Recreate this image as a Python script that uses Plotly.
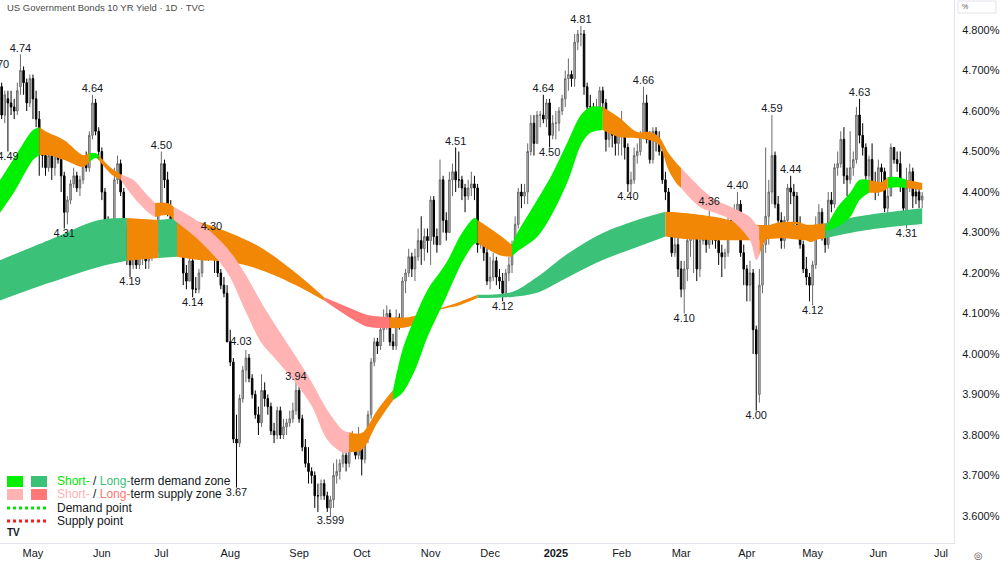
import pandas as pd
import plotly.graph_objects as go

# ---------------- data ----------------
holidays = ["2024-05-27", "2024-06-19", "2024-07-04", "2024-09-02", "2024-10-14", "2024-11-11",
            "2024-11-28", "2024-12-25", "2025-01-01", "2025-01-20", "2025-02-17", "2025-04-18",
            "2025-05-26", "2025-06-19", "2025-07-04"]

opens = [
    4.52, 4.61, 4.66, 4.59, 4.63, 4.62, 4.61, 4.60, 4.66, 4.70, 4.67, 4.62,
    4.68, 4.63, 4.58, 4.50, 4.49, 4.46, 4.49, 4.46, 4.50, 4.48, 4.44, 4.35, 4.38, 4.42, 4.44, 4.41, 4.43, 4.48, 4.46, 4.54, 4.62, 4.55,
    4.50, 4.40, 4.33, 4.29, 4.29, 4.43, 4.47, 4.40, 4.31, 4.24, 4.22, 4.28, 4.22, 4.25, 4.26, 4.23, 4.24, 4.32, 4.29,
    4.36, 4.47, 4.43, 4.36, 4.28, 4.28, 4.30, 4.28, 4.20, 4.18, 4.23, 4.16, 4.16, 4.20, 4.24, 4.26, 4.25, 4.28, 4.25, 4.20, 4.17, 4.15,
    4.03, 3.98, 3.79, 3.78, 3.89, 3.96, 3.99, 3.94, 3.90, 3.85, 3.83, 3.91, 3.89, 3.87, 3.81, 3.80, 3.86, 3.80, 3.82, 3.83, 3.84, 3.86,
    3.91, 3.84, 3.77, 3.73, 3.71, 3.70, 3.65, 3.65, 3.68, 3.65, 3.62, 3.64, 3.70, 3.71, 3.73, 3.75, 3.73, 3.79, 3.79, 3.75,
    3.78, 3.74, 3.79, 3.85, 3.98, 4.03, 4.02, 4.06, 4.09, 4.10, 4.03, 4.02, 4.09, 4.08, 4.18, 4.20, 4.24, 4.21, 4.24, 4.28, 4.26, 4.29,
    4.28, 4.38, 4.29, 4.27, 4.43, 4.33, 4.30, 4.43, 4.45, 4.43, 4.43, 4.41, 4.39, 4.41, 4.42, 4.41, 4.27, 4.30, 4.25,
    4.18, 4.19, 4.23, 4.19, 4.18, 4.15, 4.20, 4.22, 4.27, 4.32, 4.40, 4.39, 4.40, 4.50, 4.57, 4.52, 4.59, 4.59, 4.58, 4.62, 4.54,
    4.57, 4.57, 4.60, 4.63, 4.68, 4.69, 4.68, 4.77, 4.79, 4.79, 4.66, 4.61, 4.61, 4.58, 4.61, 4.65, 4.62, 4.53, 4.55, 4.54, 4.52,
    4.54, 4.54, 4.51, 4.42, 4.43, 4.49, 4.50, 4.54, 4.62, 4.53, 4.48, 4.55, 4.53, 4.50, 4.43, 4.40, 4.30, 4.25, 4.27,
    4.21, 4.16, 4.21, 4.28, 4.29, 4.30, 4.21, 4.28, 4.32, 4.27, 4.31, 4.30, 4.28, 4.25, 4.24, 4.25, 4.33, 4.31, 4.35, 4.37, 4.25,
    4.21, 4.17, 4.20, 4.06, 3.90, 4.17, 4.27, 4.34, 4.40, 4.49, 4.37, 4.33, 4.28, 4.33, 4.41, 4.40, 4.39, 4.32, 4.27, 4.21, 4.19,
    4.17, 4.22, 4.31, 4.35, 4.30, 4.27, 4.38, 4.37, 4.46, 4.47, 4.53, 4.44, 4.43, 4.46, 4.48, 4.59, 4.54, 4.51, 4.44, 4.48, 4.42,
    4.40, 4.46, 4.45, 4.36, 4.39, 4.51, 4.48, 4.47, 4.42, 4.35, 4.41, 4.45, 4.40, 4.40, 4.38,
]
highs = [
    4.64, 4.70, 4.67, 4.65, 4.65, 4.65, 4.63, 4.67, 4.74, 4.71, 4.68, 4.69,
    4.69, 4.65, 4.60, 4.51, 4.50, 4.51, 4.50, 4.52, 4.51, 4.49, 4.45, 4.39, 4.43, 4.46, 4.45, 4.44, 4.49, 4.50, 4.55, 4.64, 4.63, 4.56,
    4.51, 4.41, 4.34, 4.31, 4.46, 4.49, 4.48, 4.41, 4.32, 4.27, 4.29, 4.29, 4.26, 4.27, 4.27, 4.26, 4.33, 4.33, 4.37,
    4.50, 4.48, 4.45, 4.38, 4.31, 4.32, 4.31, 4.29, 4.22, 4.25, 4.24, 4.19, 4.21, 4.25, 4.27, 4.27, 4.30, 4.29, 4.26, 4.21, 4.19, 4.17,
    4.06, 3.99, 3.85, 3.90, 3.97, 4.01, 4.00, 3.95, 3.91, 3.87, 3.95, 3.93, 3.90, 3.88, 3.83, 3.87, 3.87, 3.84, 3.84, 3.86, 3.88, 3.93,
    3.92, 3.85, 3.79, 3.77, 3.72, 3.71, 3.68, 3.69, 3.69, 3.66, 3.65, 3.73, 3.74, 3.74, 3.77, 3.76, 3.80, 3.81, 3.80, 3.82,
    3.79, 3.80, 3.86, 3.99, 4.04, 4.04, 4.07, 4.11, 4.12, 4.11, 4.05, 4.11, 4.10, 4.19, 4.21, 4.26, 4.25, 4.26, 4.31, 4.34, 4.31, 4.31,
    4.39, 4.39, 4.31, 4.48, 4.44, 4.35, 4.45, 4.47, 4.51, 4.50, 4.44, 4.42, 4.43, 4.45, 4.44, 4.42, 4.32, 4.31, 4.27,
    4.24, 4.25, 4.24, 4.21, 4.20, 4.21, 4.24, 4.28, 4.34, 4.41, 4.42, 4.42, 4.52, 4.59, 4.59, 4.60, 4.60, 4.64, 4.63, 4.63, 4.59,
    4.60, 4.61, 4.64, 4.70, 4.73, 4.70, 4.79, 4.80, 4.81, 4.80, 4.67, 4.64, 4.62, 4.63, 4.66, 4.66, 4.63, 4.57, 4.58, 4.55, 4.57,
    4.60, 4.56, 4.52, 4.45, 4.51, 4.52, 4.55, 4.66, 4.64, 4.55, 4.56, 4.56, 4.55, 4.52, 4.45, 4.41, 4.31, 4.30, 4.29,
    4.23, 4.23, 4.30, 4.33, 4.33, 4.31, 4.30, 4.34, 4.33, 4.36, 4.33, 4.32, 4.30, 4.27, 4.26, 4.35, 4.35, 4.37, 4.40, 4.38, 4.27,
    4.22, 4.23, 4.21, 4.07, 4.21, 4.30, 4.51, 4.43, 4.59, 4.50, 4.39, 4.35, 4.34, 4.42, 4.44, 4.42, 4.40, 4.34, 4.28, 4.24, 4.20,
    4.23, 4.34, 4.37, 4.36, 4.32, 4.40, 4.40, 4.47, 4.50, 4.55, 4.56, 4.46, 4.55, 4.50, 4.61, 4.63, 4.57, 4.52, 4.49, 4.52, 4.45,
    4.48, 4.47, 4.46, 4.41, 4.52, 4.51, 4.50, 4.50, 4.43, 4.46, 4.47, 4.46, 4.42, 4.42, 4.40,
]
lows = [
    4.51, 4.60, 4.58, 4.57, 4.50, 4.59, 4.58, 4.59, 4.64, 4.64, 4.60, 4.61,
    4.58, 4.56, 4.44, 4.46, 4.44, 4.45, 4.43, 4.44, 4.47, 4.40, 4.31, 4.32, 4.37, 4.41, 4.40, 4.39, 4.42, 4.45, 4.45, 4.53, 4.54, 4.48,
    4.38, 4.31, 4.28, 4.27, 4.28, 4.42, 4.39, 4.23, 4.22, 4.19, 4.21, 4.21, 4.21, 4.22, 4.21, 4.21, 4.23, 4.26, 4.25,
    4.36, 4.41, 4.34, 4.26, 4.25, 4.27, 4.27, 4.17, 4.16, 4.18, 4.14, 4.15, 4.15, 4.19, 4.23, 4.23, 4.24, 4.20, 4.19, 4.16, 4.14, 4.03,
    3.97, 3.78, 3.67, 3.77, 3.88, 3.93, 3.93, 3.89, 3.84, 3.80, 3.82, 3.87, 3.85, 3.80, 3.78, 3.79, 3.79, 3.79, 3.80, 3.82, 3.83, 3.85,
    3.83, 3.76, 3.72, 3.68, 3.68, 3.62, 3.61, 3.64, 3.64, 3.61, 3.60, 3.62, 3.68, 3.69, 3.72, 3.71, 3.72, 3.76, 3.74, 3.74,
    3.70, 3.73, 3.78, 3.84, 3.97, 4.00, 4.01, 4.03, 4.06, 4.02, 4.01, 4.01, 4.06, 4.08, 4.15, 4.19, 4.19, 4.18, 4.23, 4.22, 4.23, 4.25,
    4.22, 4.27, 4.25, 4.27, 4.30, 4.28, 4.30, 4.39, 4.40, 4.41, 4.38, 4.35, 4.38, 4.39, 4.38, 4.25, 4.26, 4.23, 4.17,
    4.16, 4.18, 4.17, 4.16, 4.13, 4.14, 4.18, 4.20, 4.26, 4.31, 4.36, 4.37, 4.37, 4.49, 4.49, 4.52, 4.56, 4.57, 4.56, 4.51, 4.53,
    4.53, 4.55, 4.59, 4.61, 4.65, 4.66, 4.66, 4.75, 4.76, 4.64, 4.59, 4.58, 4.55, 4.57, 4.60, 4.60, 4.50, 4.51, 4.51, 4.49, 4.49,
    4.49, 4.48, 4.40, 4.40, 4.42, 4.47, 4.49, 4.53, 4.52, 4.47, 4.47, 4.50, 4.49, 4.42, 4.38, 4.29, 4.24, 4.24, 4.19,
    4.14, 4.10, 4.18, 4.24, 4.20, 4.18, 4.19, 4.27, 4.25, 4.26, 4.27, 4.26, 4.22, 4.19, 4.21, 4.24, 4.30, 4.29, 4.33, 4.24, 4.17,
    4.13, 4.13, 4.00, 3.86, 3.88, 4.15, 4.25, 4.27, 4.37, 4.36, 4.32, 4.26, 4.26, 4.32, 4.37, 4.30, 4.30, 4.26, 4.20, 4.17, 4.13,
    4.12, 4.21, 4.30, 4.28, 4.25, 4.26, 4.35, 4.36, 4.44, 4.46, 4.42, 4.39, 4.42, 4.44, 4.47, 4.52, 4.49, 4.43, 4.43, 4.41, 4.38,
    4.39, 4.42, 4.35, 4.34, 4.39, 4.47, 4.45, 4.40, 4.34, 4.31, 4.40, 4.36, 4.37, 4.36, 4.36,
]
closes = [
    4.61, 4.66, 4.59, 4.64, 4.62, 4.61, 4.60, 4.65, 4.70, 4.67, 4.62, 4.68,
    4.63, 4.58, 4.50, 4.49, 4.46, 4.49, 4.46, 4.50, 4.48, 4.44, 4.35, 4.38, 4.42, 4.44, 4.41, 4.43, 4.48, 4.46, 4.54, 4.62, 4.55, 4.50,
    4.40, 4.33, 4.29, 4.29, 4.43, 4.47, 4.40, 4.31, 4.24, 4.22, 4.28, 4.22, 4.25, 4.26, 4.23, 4.24, 4.32, 4.29, 4.36,
    4.47, 4.43, 4.36, 4.28, 4.28, 4.30, 4.28, 4.20, 4.18, 4.23, 4.16, 4.16, 4.20, 4.24, 4.26, 4.25, 4.28, 4.25, 4.20, 4.17, 4.15, 4.03,
    3.98, 3.79, 3.78, 3.89, 3.96, 3.99, 3.94, 3.90, 3.85, 3.83, 3.91, 3.89, 3.87, 3.81, 3.80, 3.86, 3.80, 3.82, 3.83, 3.84, 3.86, 3.91,
    3.84, 3.77, 3.73, 3.71, 3.70, 3.65, 3.65, 3.68, 3.65, 3.62, 3.64, 3.70, 3.71, 3.73, 3.75, 3.73, 3.79, 3.79, 3.75, 3.78,
    3.74, 3.79, 3.85, 3.98, 4.03, 4.02, 4.06, 4.09, 4.10, 4.03, 4.02, 4.09, 4.08, 4.18, 4.20, 4.24, 4.21, 4.24, 4.28, 4.26, 4.29, 4.28,
    4.38, 4.29, 4.27, 4.43, 4.33, 4.30, 4.43, 4.45, 4.43, 4.43, 4.41, 4.39, 4.41, 4.42, 4.41, 4.27, 4.30, 4.25, 4.18,
    4.19, 4.23, 4.19, 4.18, 4.15, 4.20, 4.22, 4.27, 4.32, 4.40, 4.39, 4.40, 4.50, 4.57, 4.52, 4.59, 4.59, 4.58, 4.62, 4.54, 4.57,
    4.57, 4.60, 4.63, 4.68, 4.69, 4.68, 4.77, 4.79, 4.79, 4.66, 4.61, 4.61, 4.58, 4.61, 4.65, 4.62, 4.53, 4.55, 4.54, 4.52, 4.54,
    4.54, 4.51, 4.42, 4.43, 4.49, 4.50, 4.54, 4.62, 4.53, 4.48, 4.55, 4.53, 4.50, 4.43, 4.40, 4.30, 4.25, 4.27, 4.21,
    4.16, 4.21, 4.28, 4.29, 4.30, 4.21, 4.28, 4.32, 4.27, 4.31, 4.30, 4.28, 4.25, 4.24, 4.25, 4.33, 4.31, 4.35, 4.37, 4.25, 4.21,
    4.17, 4.20, 4.06, 4.00, 4.17, 4.27, 4.34, 4.40, 4.49, 4.37, 4.33, 4.28, 4.33, 4.41, 4.40, 4.39, 4.32, 4.27, 4.21, 4.19, 4.17,
    4.22, 4.31, 4.35, 4.30, 4.27, 4.38, 4.37, 4.46, 4.47, 4.53, 4.44, 4.43, 4.46, 4.48, 4.59, 4.54, 4.51, 4.44, 4.48, 4.42, 4.40,
    4.46, 4.45, 4.36, 4.39, 4.51, 4.48, 4.47, 4.42, 4.36, 4.41, 4.45, 4.39, 4.39, 4.38, 4.39,
]

# long-term zone (ribbon edges); zone applies from this point to the next
long_dates = ["2024-04-15", "2024-05-08", "2024-05-31", "2024-06-13", "2024-06-28", "2024-07-09",
              "2024-07-18", "2024-08-01", "2024-08-15", "2024-08-30", "2024-09-13", "2024-09-25",
              "2024-10-03", "2024-10-15", "2024-10-23", "2024-11-05", "2024-11-15", "2024-11-25",
              "2024-12-11", "2024-12-23", "2025-01-08", "2025-01-24", "2025-02-10", "2025-02-24",
              "2025-03-04", "2025-03-18", "2025-03-27", "2025-04-04", "2025-04-16", "2025-04-30",
              "2025-05-07", "2025-05-19", "2025-06-03", "2025-06-23"]
long_upper = [4.227, 4.281, 4.331, 4.336, 4.331, 4.336, 4.326, 4.299, 4.262, 4.200, 4.140, 4.114,
              4.096, 4.091, 4.091, 4.111, 4.128, 4.146, 4.153, 4.190, 4.249, 4.299, 4.331, 4.351,
              4.348, 4.338, 4.326, 4.319, 4.319, 4.319, 4.323, 4.336, 4.348, 4.360]
long_lower = [4.128, 4.175, 4.215, 4.230, 4.237, 4.240, 4.232, 4.227, 4.207, 4.170, 4.132, 4.091,
              4.067, 4.064, 4.067, 4.107, 4.120, 4.138, 4.141, 4.151, 4.190, 4.232, 4.264, 4.290,
              4.284, 4.281, 4.281, 4.281, 4.286, 4.281, 4.286, 4.299, 4.311, 4.321]
long_zone = ["D", "D", "D", "N", "D", "N", "N", "N", "N", "N", "S", "S",
             "S", "N", "N", "N", "N", "D", "D", "D", "D", "D", "D", "N",
             "N", "N", "N", "N", "N", "N", "D", "D", "D", "D"]

# short-term zone
short_dates = ["2024-04-15", "2024-04-23", "2024-05-01", "2024-05-03", "2024-05-08", "2024-05-15",
               "2024-05-23", "2024-05-28", "2024-05-30", "2024-05-31", "2024-06-06", "2024-06-11",
               "2024-06-17", "2024-06-25", "2024-06-27", "2024-07-03", "2024-07-08", "2024-07-18",
               "2024-07-31", "2024-08-08", "2024-08-15", "2024-08-22", "2024-08-30", "2024-09-09",
               "2024-09-16", "2024-09-23", "2024-09-25", "2024-10-01", "2024-10-08", "2024-10-16",
               "2024-10-21", "2024-10-25", "2024-10-31", "2024-11-08", "2024-11-18", "2024-11-22",
               "2024-11-25", "2024-12-05", "2024-12-11", "2024-12-12", "2024-12-23", "2024-12-31",
               "2025-01-08", "2025-01-14", "2025-01-17", "2025-01-24", "2025-01-31", "2025-02-10",
               "2025-02-14", "2025-02-20", "2025-02-25", "2025-02-28", "2025-03-03", "2025-03-11",
               "2025-03-18", "2025-03-25", "2025-04-02", "2025-04-04", "2025-04-07", "2025-04-09",
               "2025-04-14", "2025-04-24", "2025-04-29", "2025-05-01", "2025-05-07", "2025-05-13",
               "2025-05-19", "2025-05-22", "2025-05-28", "2025-06-03", "2025-06-05", "2025-06-10",
               "2025-06-13", "2025-06-23"]
short_upper = [4.411, 4.484, 4.553, 4.560, 4.546, 4.528, 4.491, 4.496, 4.496, 4.491, 4.459, 4.444,
               4.430, 4.388, 4.373, 4.373, 4.363, 4.326, 4.262, 4.195, 4.126, 4.064, 3.993, 3.931,
               3.862, 3.812, 3.807, 3.805, 3.862, 3.911, 4.010, 4.091, 4.158, 4.225, 4.299, 4.336,
               4.331, 4.294, 4.269, 4.289, 4.380, 4.447, 4.528, 4.590, 4.610, 4.610, 4.585, 4.548,
               4.548, 4.536, 4.496, 4.467, 4.459, 4.412, 4.380, 4.363, 4.338, 4.319, 4.314, 4.314,
               4.323, 4.326, 4.319, 4.314, 4.308, 4.363, 4.398, 4.430, 4.430, 4.425, 4.437, 4.437,
               4.430, 4.422]
short_lower = [4.333, 4.400, 4.479, 4.491, 4.491, 4.479, 4.462, 4.474, 4.484, 4.479, 4.444, 4.430,
               4.388, 4.348, 4.338, 4.343, 4.331, 4.281, 4.202, 4.104, 4.027, 3.983, 3.928, 3.872,
               3.788, 3.756, 3.758, 3.763, 3.830, 3.886, 3.904, 3.960, 4.042, 4.141, 4.225, 4.272,
               4.274, 4.244, 4.240, 4.249, 4.289, 4.348, 4.430, 4.516, 4.546, 4.553, 4.536, 4.533,
               4.528, 4.516, 4.454, 4.417, 4.410, 4.363, 4.348, 4.331, 4.281, 4.232, 4.244, 4.281,
               4.289, 4.321, 4.281, 4.277, 4.304, 4.314, 4.338, 4.380, 4.398, 4.400, 4.410, 4.412,
               4.410, 4.405]
short_zone = ["D", "D", "D", "N", "N", "N", "N", "D", "D", "N", "N", "S",
              "S", "S", "N", "N", "S", "S", "S", "S", "S", "S", "S", "S",
              "S", "S", "N", "N", "N", "D", "D", "D", "D", "D", "D", "D",
              "N", "N", "D", "D", "D", "D", "D", "D", "D", "N", "N", "N",
              "N", "N", "N", "N", "S", "S", "S", "S", "S", "S", "N", "N",
              "N", "N", "N", "N", "D", "D", "D", "D", "N", "N", "D", "D",
              "N", "N"]

# pivot labels
label_dates = ["2024-04-16", "2024-04-19", "2024-04-25", "2024-05-15", "2024-05-29", "2024-06-14",
               "2024-07-01", "2024-07-16", "2024-07-24", "2024-08-01", "2024-08-05", "2024-08-30",
               "2024-09-17", "2024-11-14", "2024-12-06", "2024-12-26", "2024-12-30", "2025-01-14",
               "2025-02-05", "2025-02-12", "2025-03-04", "2025-03-14", "2025-03-27", "2025-04-04",
               "2025-04-11", "2025-04-22", "2025-05-01", "2025-05-22", "2025-06-13"]
label_texts = ["4.70", "4.49", "4.74", "4.31", "4.64", "4.19", "4.50", "4.14", "4.30", "4.03", "3.67", "3.94",
               "3.599", "4.51", "4.12", "4.64", "4.50", "4.81", "4.40", "4.66", "4.10", "4.36", "4.40", "4.00",
               "4.59", "4.44", "4.12", "4.63", "4.31"]
label_kinds = ["high", "low", "high", "low", "high", "low", "high", "low", "high", "open", "low", "high",
               "low", "high", "low", "high", "low", "high", "low", "high", "low", "high", "high", "low",
               "high", "high", "low", "high", "low"]

tick_dates = ["2024-05-01", "2024-06-03", "2024-07-01", "2024-08-01", "2024-09-03", "2024-10-01",
              "2024-11-01", "2024-12-02", "2025-01-02", "2025-02-03", "2025-03-03", "2025-04-01",
              "2025-05-01", "2025-06-02", "2025-07-01"]
tick_text = ["May", "Jun", "Jul", "Aug", "Sep", "Oct", "Nov", "Dec", "<b>2025</b>", "Feb", "Mar", "Apr",
             "May", "Jun", "Jul"]

# ---------------- build ----------------
all_days = [d.strftime("%Y-%m-%d") for d in pd.bdate_range("2024-04-15", "2025-07-15")
            if d.strftime("%Y-%m-%d") not in holidays]
n = len(closes)
assert len(opens) == len(highs) == len(lows) == n
dates = all_days[:n]
assert dates[-1] == "2025-06-23", dates[-1]

FONT = "Liberation Sans"
TXT = "#131722"
PAL = {
    "short": {"D": "#00f000", "S": "#ffb3b3", "N": "#f28705"},
    "long": {"D": "#3cc178", "S": "#ff7777", "N": "#f28705"},
}

fig = go.Figure()


def add_band(bdates, up, lo, zones, pal):
    m = len(bdates)
    i = 0
    while i < m - 1:
        j = i
        while j + 1 < m - 1 and zones[j + 1] == zones[i]:
            j += 1
        sl = slice(i, j + 2)
        fig.add_trace(go.Scatter(x=bdates[sl], y=up[sl], mode="lines",
                                 line=dict(width=0, shape="spline", smoothing=0.9),
                                 hoverinfo="skip", showlegend=False))
        fig.add_trace(go.Scatter(x=bdates[sl], y=lo[sl], mode="lines",
                                 line=dict(width=0, shape="spline", smoothing=0.9),
                                 fill="tonexty", fillcolor=pal[zones[i]],
                                 hoverinfo="skip", showlegend=False))
        i = j + 1


add_band(long_dates, long_upper, long_lower, long_zone, PAL["long"])
add_band(short_dates, short_upper, short_lower, short_zone, PAL["short"])

fig.add_trace(go.Candlestick(
    x=dates, open=opens, high=highs, low=lows, close=closes,
    increasing=dict(line=dict(color="#6a6a6a", width=1), fillcolor="#c4c4c4"),
    decreasing=dict(line=dict(color="#000000", width=1), fillcolor="#000000"),
    whiskerwidth=0, showlegend=False, hoverinfo="skip"))

# pivot labels
pos = {d: k for k, d in enumerate(dates)}
lx, ly, lpos = [], [], []
for d, kind in zip(label_dates, label_kinds):
    k = pos[d]
    lx.append(d)
    if kind == "high":
        ly.append(highs[k]); lpos.append("top center")
    elif kind == "low":
        ly.append(lows[k]); lpos.append("bottom center")
    else:
        ly.append(opens[k]); lpos.append("middle right")
fig.add_trace(go.Scatter(x=lx, y=ly, mode="text", text=label_texts, textposition=lpos,
                         textfont=dict(family=FONT, size=11, color=TXT),
                         cliponaxis=True, hoverinfo="skip", showlegend=False))

# ---------------- layout ----------------
PW, PH = 954, 543


def px(xp):
    return xp / PW


def py(yp):
    return (PH - yp) / PH


shapes = []
annotations = []

# legend boxes
for (x0, x1, y0, y1, col) in [(7, 23, 476, 487, PAL["short"]["D"]), (31, 47, 476, 487, PAL["long"]["D"]),
                              (7, 23, 489, 500, PAL["short"]["S"]), (31, 47, 489, 500, PAL["long"]["S"])]:
    shapes.append(dict(type="rect", xref="paper", yref="paper", x0=px(x0), x1=px(x1), y0=py(y1), y1=py(y0),
                       fillcolor=col, line=dict(width=0), layer="above"))
for (yy, col) in [(508, "#00e600"), (521, "#ff1a1a")]:
    shapes.append(dict(type="line", xref="paper", yref="paper", x0=px(7), x1=px(46), y0=py(yy), y1=py(yy),
                       line=dict(color=col, width=3, dash="dot"), layer="above"))

legend_rows = [
    (481, '<span style="color:#00e600">Short-</span> / <span style="color:#3cc178">Long-</span>term demand zone'),
    (494, '<span style="color:#ffb3b3">Short-</span> / <span style="color:#ff7777">Long-</span>term supply zone'),
    (508, 'Demand point'),
    (521, 'Supply point'),
]
for yy, t in legend_rows:
    annotations.append(dict(xref="paper", yref="paper", x=px(55), y=py(yy), text=t, showarrow=False,
                            xanchor="left", yanchor="middle", font=dict(family=FONT, size=12, color=TXT)))

# title
annotations.append(dict(xref="paper", yref="paper", x=px(5), y=py(8),
                        text="US Government Bonds 10 YR Yield · 1D · TVC", showarrow=False,
                        xanchor="left", yanchor="middle", font=dict(family=FONT, size=9.5, color="#4a4a4a")))
# TradingView mark
annotations.append(dict(xref="paper", yref="paper", x=px(5), y=py(532), text="<b>TV</b>", showarrow=False,
                        xanchor="left", yanchor="middle", font=dict(family=FONT, size=10, color=TXT)))
# % box
shapes.append(dict(type="rect", xref="paper", yref="paper", x0=px(958), x1=px(996), y0=py(13), y1=py(1),
                   line=dict(color="#e0e3eb", width=1), fillcolor="white", layer="above"))
annotations.append(dict(xref="paper", yref="paper", x=px(960), y=py(7), text="%", showarrow=False,
                        xanchor="left", yanchor="middle", font=dict(family=FONT, size=7, color="#555")))
# settings icon
annotations.append(dict(xref="paper", yref="paper", x=px(978), y=py(555), text="◎", showarrow=False,
                        xanchor="center", yanchor="middle", font=dict(family="DejaVu Sans", size=10, color="#555")))

fig.update_layout(
    width=1000, height=562, autosize=False,
    margin=dict(l=0, r=1000 - PW, t=0, b=562 - PH),
    paper_bgcolor="white", plot_bgcolor="white",
    showlegend=False, shapes=shapes, annotations=annotations,
    xaxis=dict(type="category", categoryorder="array", categoryarray=all_days,
               range=[1.47, 306.16], tickmode="array", tickvals=tick_dates, ticktext=tick_text,
               showgrid=False, zeroline=False, showline=True, linecolor="#e0e3eb", linewidth=1,
               ticks="", tickfont=dict(family=FONT, size=11, color=TXT),
               rangeslider=dict(visible=False), fixedrange=True),
    yaxis=dict(side="right", range=[3.5333, 4.8741], tick0=3.6, dtick=0.1, tickformat=".3f", ticksuffix="%",
               showgrid=False, zeroline=False, showline=True, linecolor="#e0e3eb", linewidth=1,
               ticks="", ticklabelstandoff=5, tickfont=dict(family=FONT, size=11, color=TXT), fixedrange=True),
)

fig.write_html("out.html")
